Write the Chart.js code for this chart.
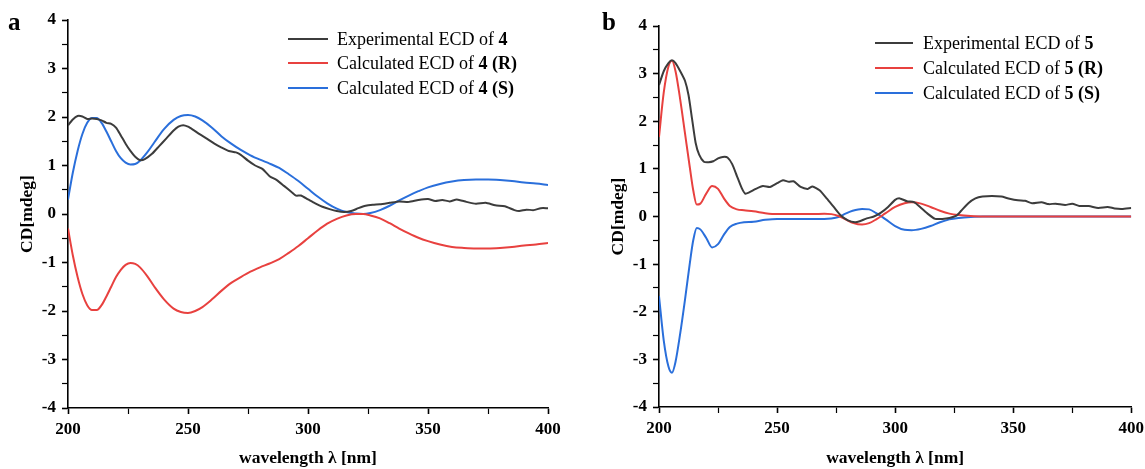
<!DOCTYPE html>
<html>
<head>
<meta charset="utf-8">
<script src="https://cdn.jsdelivr.net/npm/chart.js@4.4.0/dist/chart.umd.min.js"></script>
<style>
  html, body { margin:0; padding:0; background:#fff; }
  body { width:1145px; height:469px; position:relative; overflow:hidden; font-family:"Liberation Serif", serif; }
  canvas { position:absolute; top:0; }
  .panel { position:absolute; font-family:"Liberation Serif", serif; font-weight:bold; font-size:25px; line-height:25px; color:#000; }
  .leg { position:absolute; font-family:"Liberation Serif", serif; font-size:18px; line-height:20px; color:#000; white-space:nowrap; }
  .leg .sw { position:absolute; height:2px; }
</style>
</head>
<body>
<canvas id="ca" width="575" height="469" style="left:0px"></canvas>
<canvas id="cb" width="574" height="469" style="left:575px"></canvas>
<div class="panel" style="left:8px; top:9px;">a</div>
<div class="panel" style="left:602px; top:9px;">b</div>
<div id="legA"></div>
<div id="legB"></div>
<script>
// ---------- tick labels ----------
const xTickLabels = ['200', '250', '300', '350', '400'];
const yTickLabels = ['-4', '-3', '-2', '-1', '0', '1', '2', '3', '4'];
const xTitle = 'wavelength \u03bb [nm]';
const yTitle = 'CD[mdeg]';

// ---------- series names ----------
const aLabels = ['Experimental ECD of 4', 'Calculated ECD of 4 (R)', 'Calculated ECD of 4 (S)'];
const bLabels = ['Experimental ECD of 5', 'Calculated ECD of 5 (R)', 'Calculated ECD of 5 (S)'];
const seriesColors = ['#3c3c3c', '#e8413f', '#2a6fdb'];

// ---------- panel a ----------
const aExpX = [200,202,204,206,208,210,212,214,216,218,220,222,224,226,228,230,232,235,238,241,244,246,248,250,252,255,258,261,264,267,270,272,275,278,281,284,287,290,293,295,297,300,303,306,309,312,315,318,321,324,327,330,334,338,342,346,350,353,356,359,362,366,370,374,378,382,386,388,391,394,397,400];
const aExpY = [1.83,1.95,2.02,2.01,1.96,1.97,1.96,1.93,1.88,1.86,1.78,1.62,1.45,1.30,1.18,1.11,1.13,1.24,1.40,1.56,1.72,1.80,1.83,1.80,1.74,1.64,1.55,1.45,1.37,1.30,1.27,1.22,1.10,1.00,0.93,0.78,0.70,0.58,0.46,0.38,0.38,0.30,0.22,0.15,0.10,0.06,0.04,0.06,0.12,0.17,0.19,0.20,0.23,0.26,0.25,0.29,0.31,0.27,0.29,0.26,0.30,0.25,0.21,0.23,0.18,0.16,0.08,0.06,0.09,0.08,0.12,0.12];

const aCalcX = [200,202,204,206,208,210,212,214,216,218,220,222,224,226,228,230,233,236,240,244,247,250,253,256,260,264,268,272,276,280,284,288,292,296,300,304,308,312,316,320,323,326,330,334,338,342,346,350,355,360,365,370,375,380,385,390,395,400];
const aRY = [-0.30,-0.85,-1.30,-1.65,-1.88,-1.98,-1.98,-1.88,-1.70,-1.50,-1.30,-1.15,-1.05,-1.01,-1.03,-1.10,-1.28,-1.50,-1.76,-1.95,-2.02,-2.04,-2.00,-1.92,-1.76,-1.58,-1.42,-1.30,-1.19,-1.10,-1.02,-0.93,-0.80,-0.66,-0.50,-0.34,-0.20,-0.10,-0.03,0.00,0.00,-0.03,-0.09,-0.19,-0.30,-0.40,-0.49,-0.56,-0.63,-0.68,-0.70,-0.71,-0.71,-0.70,-0.68,-0.65,-0.63,-0.60];
const aSY = [0.30,0.85,1.30,1.65,1.88,1.98,1.98,1.88,1.70,1.50,1.30,1.15,1.06,1.02,1.03,1.10,1.27,1.48,1.75,1.94,2.02,2.04,2.01,1.93,1.78,1.60,1.45,1.32,1.21,1.12,1.04,0.95,0.82,0.68,0.52,0.36,0.22,0.11,0.04,0.01,0.00,0.02,0.08,0.17,0.28,0.38,0.47,0.55,0.62,0.67,0.70,0.71,0.71,0.70,0.68,0.65,0.63,0.60];

// ---------- panel b ----------
const bExpX = [200,202,204,205.5,207,209,211,212.5,214,215.5,217,219,221,223,225,227,229,231,233,235,236.5,238,241,244,247,250,252.5,255,257,260,263,265,268,271,274,277,280,283,285,288,291,294,297,300,302,305,308,311,314,317,320,323,326,328,331,334,337,341,345,348,352,355,358,362,365,368,372,375,378,382,386,390,393,396,400];
const bExpY = [2.76,3.05,3.22,3.28,3.22,3.05,2.85,2.55,2.05,1.55,1.30,1.15,1.14,1.16,1.22,1.25,1.24,1.10,0.85,0.60,0.48,0.50,0.58,0.64,0.62,0.70,0.76,0.73,0.74,0.62,0.58,0.63,0.55,0.38,0.20,0.02,-0.08,-0.12,-0.10,-0.04,0.00,0.08,0.20,0.35,0.38,0.32,0.30,0.18,0.05,-0.05,-0.05,-0.03,0.02,0.12,0.28,0.38,0.42,0.43,0.42,0.38,0.34,0.33,0.28,0.30,0.26,0.27,0.24,0.27,0.22,0.22,0.18,0.20,0.17,0.16,0.18];

const bCalcX = [200,202,204,205.5,207,209,211,213,214.5,216,217.5,220,222.5,225,227.5,230,233,236,240,245,250,255,260,265,270,273,276,279,282,286,289,292,296,300,304,307,311,315,319,323,327,332,337,345,360,380,400];
const bRY = [1.67,2.60,3.15,3.27,3.05,2.45,1.75,1.05,0.55,0.25,0.27,0.48,0.64,0.58,0.38,0.22,0.15,0.13,0.11,0.07,0.05,0.05,0.05,0.05,0.06,0.05,0.01,-0.06,-0.13,-0.17,-0.14,-0.06,0.07,0.20,0.28,0.30,0.27,0.20,0.12,0.06,0.03,0.01,0.00,0.00,0.00,0.00,0.00];
const bSY = [-1.67,-2.60,-3.15,-3.28,-3.05,-2.45,-1.75,-1.00,-0.50,-0.24,-0.27,-0.45,-0.65,-0.58,-0.38,-0.22,-0.15,-0.12,-0.11,-0.07,-0.05,-0.05,-0.05,-0.05,-0.05,-0.04,-0.01,0.06,0.12,0.16,0.15,0.07,-0.06,-0.20,-0.28,-0.29,-0.26,-0.20,-0.12,-0.06,-0.03,-0.01,0.00,0.00,0.00,0.00,0.00];

// ---------- helpers ----------
function pts(xs, ys) { return xs.map((x, i) => ({ x: x, y: ys[i] })); }
function ds(label, xs, ys, color, tension) {
  return { label: label, data: pts(xs, ys), borderColor: color, backgroundColor: color,
           borderWidth: 2, pointRadius: 0, tension: tension, fill: false,
           cubicInterpolationMode: tension > 0.3 ? 'monotone' : 'default' };
}
const tickFont = { family: 'Liberation Serif', weight: 'bold', size: 17 };
const titleFont = { family: 'Liberation Serif', weight: 'bold', size: 17.5 };

function makeOptions(padLeft, padRight, padTop, yWidth, xHeight) {
  return {
    responsive: false, animation: false, devicePixelRatio: 1,
    layout: { padding: { left: padLeft, right: padRight, top: padTop, bottom: 0 } },
    plugins: { legend: { display: false }, tooltip: { enabled: false } },
    scales: {
      x: {
        type: 'linear', min: 200, max: 400,
        afterFit: function (s) { s.height = xHeight; },
        ticks: { stepSize: 25, autoSkip: false, maxRotation: 0, padding: 5, color: '#000', font: tickFont,
                 callback: function (v) { const s = String(v); return xTickLabels.includes(s) ? s : ''; } },
        grid: { drawOnChartArea: false, drawTicks: true, tickLength: 6, tickColor: '#000',
                tickWidth: function (c) { return xTickLabels.includes(String(c.tick.value)) ? 1.6 : 1.2; } },
        border: { display: true, color: '#000', width: 1.6 },
        title: { display: true, text: xTitle, color: '#000', font: titleFont, padding: { top: 0, bottom: 0 } }
      },
      y: {
        type: 'linear', min: -4, max: 4,
        afterFit: function (s) { s.width = yWidth; },
        ticks: { stepSize: 0.5, autoSkip: false, padding: 6, color: '#000', font: tickFont,
                 callback: function (v) { const s = String(v); return yTickLabels.includes(s) ? s : ''; } },
        grid: { drawOnChartArea: false, drawTicks: true, tickLength: 6, tickColor: '#000',
                tickWidth: function (c) { return yTickLabels.includes(String(c.tick.value)) ? 1.6 : 1.2; } },
        border: { display: true, color: '#000', width: 1.6 },
        title: { display: true, text: yTitle, color: '#000', font: titleFont, padding: { top: 0, bottom: 0 } }
      }
    }
  };
}

const chartA = new Chart(document.getElementById('ca'), {
  type: 'line',
  data: { datasets: [
    ds(aLabels[0], aExpX, aExpY, seriesColors[0], 0.2),
    ds(aLabels[1], aCalcX, aRY, seriesColors[1], 0.4),
    ds(aLabels[2], aCalcX, aSY, seriesColors[2], 0.4)
  ] },
  options: makeOptions(17, 27, 20, 51, 61)
});

const chartB = new Chart(document.getElementById('cb'), {
  type: 'line',
  data: { datasets: [
    ds(bLabels[0], bExpX, bExpY, seriesColors[0], 0.2),
    ds(bLabels[1], bCalcX, bRY, seriesColors[1], 0.4),
    ds(bLabels[2], bCalcX, bSY, seriesColors[2], 0.4)
  ] },
  options: makeOptions(33, 10, 26, 51, 62)
});

// ---------- HTML legends (bold compound numbers) ----------
function fmtLabel(t) {
  return t.replace(/ (\d)( \([RS]\))?$/, function (m, n, rs) {
    return ' <b>' + n + (rs ? rs : '') + '</b>';
  });
}
function buildLegend(el, chart, swLeft, swWidth, textLeft, rowYs) {
  chart.data.datasets.forEach(function (d, i) {
    const row = document.createElement('div');
    row.className = 'leg';
    row.style.left = textLeft + 'px';
    row.style.top = (rowYs[i] - 10) + 'px';
    row.innerHTML = fmtLabel(d.label);
    const sw = document.createElement('div');
    sw.className = 'sw';
    sw.style.left = (swLeft - textLeft) + 'px';
    sw.style.width = swWidth + 'px';
    sw.style.top = '9px';
    sw.style.background = d.borderColor;
    row.appendChild(sw);
    el.appendChild(row);
  });
}
buildLegend(document.getElementById('legA'), chartA, 288, 40, 337, [39, 63, 88]);
buildLegend(document.getElementById('legB'), chartB, 875, 38, 923, [43, 68, 93]);
</script>
</body>
</html>
